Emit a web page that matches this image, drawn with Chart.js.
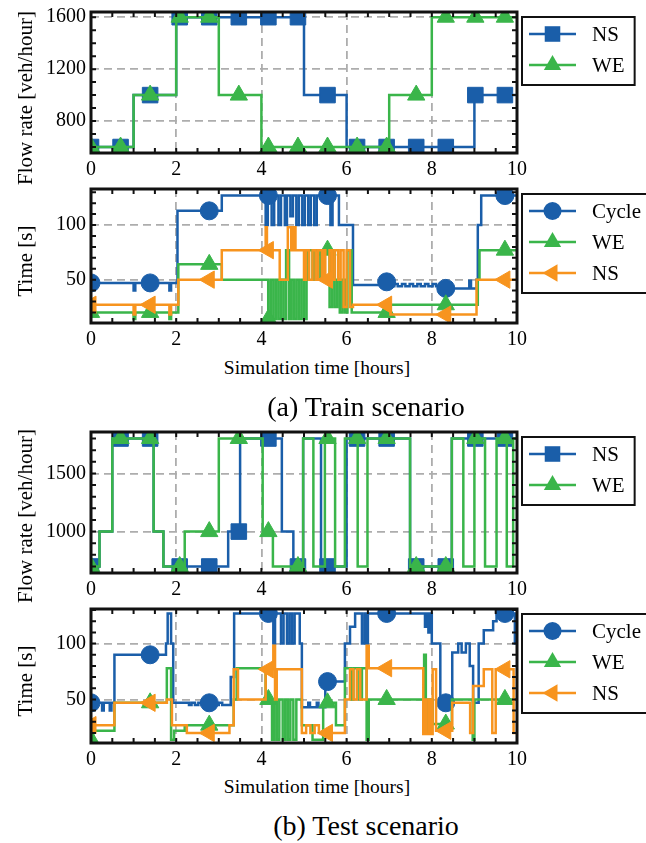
<!DOCTYPE html>
<html>
<head>
<meta charset="utf-8">
<script src="https://cdn.jsdelivr.net/npm/chart.js@4/dist/chart.umd.min.js"></script>
<style>
  body { margin: 0; background: #fff; width: 646px; height: 843px; position: relative; overflow: hidden;
         font-family: "Liberation Serif", "Times New Roman", serif; color: #000; }
  .panel { position: absolute; left: 0; }
  .lbl { position: absolute; white-space: nowrap; transform: translate(-50%, -50%); }
  .ylbl { transform: translate(-50%, -50%) rotate(-90deg); font-size: 21px; }
  .xlbl { font-size: 19.5px; }
  .cap { font-size: 28px; }
</style>
</head>
<body>
<div class="panel" style="top:0"><canvas id="c1" width="646" height="178"></canvas></div>
<div class="panel" style="top:178px"><canvas id="c2" width="646" height="172"></canvas></div>
<div class="panel" style="top:420px"><canvas id="c3" width="646" height="178"></canvas></div>
<div class="panel" style="top:598px"><canvas id="c4" width="646" height="172"></canvas></div>

<div class="lbl ylbl" style="left:25px;top:98px">Flow rate [veh/hour]</div>
<div class="lbl ylbl" style="left:25px;top:261px">Time [s]</div>
<div class="lbl xlbl" style="left:317px;top:368px">Simulation time [hours]</div>
<div class="lbl cap" style="left:366px;top:407px">(a) Train scenario</div>

<div class="lbl ylbl" style="left:25px;top:516px">Flow rate [veh/hour]</div>
<div class="lbl ylbl" style="left:25px;top:681px">Time [s]</div>
<div class="lbl xlbl" style="left:317px;top:787px">Simulation time [hours]</div>
<div class="lbl cap" style="left:366px;top:826px">(b) Test scenario</div>

<script>
/* ── Data: [hour, value] step points, value holds until next point ── */
const hourTicks = [0, 2, 4, 6, 8, 10];
const trainRateTicks = [800, 1200, 1600];
const testRateTicks = [1000, 1500];
const timeTicks = [50, 100];

// marker positions (hours)
const flowMarkHours = [0, 0.694, 1.388, 2.082, 2.776, 3.47, 4.164, 4.858, 5.552, 6.246, 6.94, 7.634, 8.328, 9.022, 9.716];
const timeMarkHours = [0, 1.388, 2.776, 4.164, 5.552, 6.94, 8.328, 9.716];

// (a) train – flow rate [veh/hour]
const trainFlowNS = [[0,600],[1,1000],[2,1600],[5,1000],[6,600],[9,1000],[10,1000]];
const trainFlowWE = [[0,600],[1,1000],[2,1600],[3,1000],[4,600],[7,1000],[8,1600],[10,1600]];

// (a) train – time [s]
const trainCycle = [[0,47],[1.0,40],[1.04,47],[1.84,40],[1.88,47],[2.03,113],[3.07,127],[4.1,100],[4.15,127],
  [4.24,100],[4.3,127],[4.4,100],[4.46,127],[4.55,100],[4.6,127],[4.68,108],[4.74,127],[4.82,100],[4.88,127],
  [4.96,100],[5.02,127],[5.1,100],[5.16,127],[5.24,100],[5.3,127],[5.62,100],[5.67,127],[5.82,100],[6.15,45],
  [6.9,48],[7.05,44],[7.12,46],[7.2,44],[7.3,46],[7.38,44],[7.48,46],[7.56,44],[7.66,46],[7.74,44],[7.84,46],
  [7.92,44],[8.02,46],[8.1,44],[8.25,42],[8.88,49],[8.92,42],[9.05,50],[9.08,100],[9.16,127],[10,127]];
const trainGreenWE = [[0,20],[1.0,14],[1.04,20],[1.84,14],[1.88,20],[2.05,64],[3.07,50],[4.16,14],[4.22,50],
  [4.28,14],[4.34,50],[4.4,14],[4.46,50],[4.52,14],[4.58,77],[4.65,14],[4.7,50],[4.76,14],[4.82,50],[4.88,14],
  [4.94,50],[5.0,14],[5.06,50],[5.1,77],[5.2,50],[5.26,77],[5.34,50],[5.4,77],[5.6,25],[5.66,77],[5.72,25],
  [5.78,50],[5.84,20],[5.9,50],[5.96,20],[6.02,77],[6.12,20],[7.03,27],[9.08,50],[9.12,77],[10,77]];
const trainGreenNS = [[0,27],[1.0,18],[1.04,27],[1.84,18],[1.88,27],[2.05,50],[3.07,77],[4.1,98],[4.13,77],
  [4.43,50],[4.62,98],[4.7,77],[4.75,98],[4.8,77],[5.0,50],[5.05,77],[5.12,50],[5.2,77],[5.27,50],[5.33,77],
  [5.42,50],[5.46,77],[5.5,50],[5.6,77],[5.66,50],[5.72,77],[5.8,50],[5.86,77],[5.93,25],[6.0,77],[6.08,25],
  [6.15,27],[7.03,18],[9.05,50],[10,50]];

// (b) test – flow rate [veh/hour]
const testFlowNS = [[0,700],[0.2,1000],[0.5,1800],[1.47,1000],[1.7,700],[3.22,1000],[3.5,1800],[4.48,1000],
  [4.75,700],[4.98,1800],[5.4,700],[6.0,1800],[7.49,700],[8.47,1800],[10,1800]];
const testFlowWE = [[0,700],[0.2,1000],[0.5,1800],[1.47,1000],[1.7,700],[2.2,1000],[3.0,1800],[4.03,1000],
  [4.27,700],[4.98,1800],[5.22,700],[5.49,1800],[5.73,700],[5.96,1800],[6.26,700],[6.49,1800],[7.49,700],
  [8.47,1800],[8.74,700],[9.0,1800],[9.25,700],[9.52,1800],[9.76,700],[9.91,1800],[10,1800]];

// (b) test – time [s]
const testCycle = [[0,47],[0.26,40],[0.3,47],[0.44,40],[0.48,47],[0.55,90],[1.76,100],[1.8,127],[1.88,100],
  [1.93,47],[2.3,45],[2.36,47],[2.44,45],[2.52,47],[2.6,45],[2.7,47],[2.9,45],[3.0,47],[3.08,45],[3.28,70],
  [3.36,127],[4.28,100],[4.32,127],[4.46,100],[4.52,127],[4.6,100],[4.66,127],[4.72,100],[4.78,127],[4.9,100],
  [4.95,43],[5.1,47],[5.14,43],[5.3,47],[5.34,43],[5.5,66],[5.96,100],[6.08,115],[6.2,127],[6.36,100],[6.42,127],
  [6.46,100],[6.5,127],[7.84,115],[7.88,127],[7.92,110],[7.96,127],[8.0,100],[8.2,47],[8.48,92],[8.62,100],
  [8.7,92],[8.8,100],[8.89,80],[8.97,47],[9.1,100],[9.22,112],[9.44,120],[9.52,127],[9.95,100],[10,100]];
const testGreenWE = [[0,14],[0.05,22],[0.55,47],[1.78,78],[1.88,14],[1.95,22],[2.2,27],[3.35,50],[3.42,78],
  [4.1,50],[4.25,14],[4.3,50],[4.36,14],[4.42,50],[4.5,14],[4.56,50],[4.62,14],[4.68,50],[4.75,14],[4.82,50],
  [4.95,27],[5.2,14],[5.45,47],[5.75,27],[5.96,78],[6.1,50],[6.16,78],[6.3,50],[6.36,78],[6.47,14],[6.52,50],
  [7.82,90],[7.86,20],[7.92,50],[8.02,28],[8.47,50],[8.96,14],[9.0,50],[10,50]];
const testGreenNS = [[0,27],[0.55,47],[1.78,50],[1.9,27],[2.25,20],[3.25,27],[3.35,77],[3.45,50],[4.1,77],
  [4.28,98],[4.32,50],[4.36,77],[4.95,20],[5.05,27],[5.15,20],[5.25,27],[5.35,20],[5.96,50],[6.08,77],[6.16,50],
  [6.24,77],[6.32,50],[6.47,98],[6.52,78],[7.8,19],[7.84,50],[7.88,19],[7.94,50],[7.98,19],[8.02,77],[8.1,22],
  [8.48,47],[8.9,20],[8.97,62],[9.22,77],[9.42,20],[9.5,77],[9.92,20],[10,20]];

/* ── Styling ─────────────────────────────────────────────── */
const BLUE = '#1a5ea9', GREEN = '#3ab54a', ORANGE = '#f7941e';
const FONT = '"Liberation Serif", "Times New Roman", serif';
const GRID = '#adadad';

// step value at t, used to put the sparse markers on the line
function stepAt(pts, t) {
  let v = pts[0][1];
  pts.forEach(p => { if (p[0] <= t + 1e-9) v = p[1]; });
  return v;
}

function series(pts, marks) {
  const out = pts.map(p => ({ x: p[0], y: p[1], m: false }));
  marks.forEach(t => {
    const hit = out.find(p => Math.abs(p.x - t) < 1e-9);
    if (hit) hit.m = true;
    else out.push({ x: t, y: stepAt(pts, t), m: true });
  });
  return out.sort((a, b) => a.x - b.x);
}

function dataset(label, pts, marks, color, style, radius, order, rotation) {
  return {
    label, order, data: series(pts, marks),
    borderColor: color, backgroundColor: color, borderWidth: 2.5,
    stepped: true, pointStyle: style, pointRotation: rotation || 0,
    pointRadius: c => (c.raw && c.raw.m ? radius : 0),
    pointHoverRadius: 0, pointBorderWidth: 1, pointBorderColor: color,
    legendRadius: radius
  };
}

function drawMarker(ctx, style, rot, r, x, y, color) {
  ctx.save();
  ctx.translate(x, y);
  ctx.rotate(rot * Math.PI / 180);
  ctx.fillStyle = color;
  ctx.beginPath();
  if (style === 'circle') ctx.arc(0, 0, r, 0, 2 * Math.PI);
  else if (style === 'rect') { const s = r * Math.SQRT1_2; ctx.rect(-s, -s, 2 * s, 2 * s); }
  else {
    ctx.moveTo(0, -r);
    ctx.lineTo(r * Math.sin(2 * Math.PI / 3), -r * Math.cos(2 * Math.PI / 3));
    ctx.lineTo(r * Math.sin(4 * Math.PI / 3), -r * Math.cos(4 * Math.PI / 3));
    ctx.closePath();
  }
  ctx.fill();
  ctx.restore();
}

/* ── Plugins: boxed frame with inward ticks, boxed legend ── */
const framePlugin = {
  id: 'frame',
  afterDatasetsDraw(chart, args, opts) {
    const { ctx, chartArea: a, scales: { x, y } } = chart;
    ctx.save();
    ctx.strokeStyle = '#111';
    ctx.lineWidth = 2;
    ctx.beginPath();
    for (let v = x.min; v <= x.max + 1e-9; v += 0.5) {
      const px = x.getPixelForValue(v);
      ctx.moveTo(px, a.top); ctx.lineTo(px, a.top + 5);
      ctx.moveTo(px, a.bottom); ctx.lineTo(px, a.bottom - 5);
    }
    for (let v = Math.ceil(y.min / opts.yStep) * opts.yStep; v <= y.max; v += opts.yStep) {
      const py = y.getPixelForValue(v);
      ctx.moveTo(a.left, py); ctx.lineTo(a.left + 5, py);
      ctx.moveTo(a.right, py); ctx.lineTo(a.right - 5, py);
    }
    ctx.stroke();
    ctx.lineWidth = 3;
    ctx.strokeRect(a.left, a.top, a.width, a.height);
    ctx.restore();
  }
};

const boxLegend = {
  id: 'boxLegend',
  afterDraw(chart) {
    const { ctx, chartArea: a } = chart;
    const sets = chart.data.datasets;
    ctx.save();
    ctx.font = '21px ' + FONT;
    const left = a.right + 5, top = a.top + 5, textX = a.right + 75;
    const w = Math.max(...sets.map(d => ctx.measureText(d.label).width));
    const boxW = textX + w + 10 - left, boxH = sets.length * 31 + 6;
    ctx.fillStyle = '#fff';
    ctx.fillRect(left, top, boxW, boxH);
    ctx.strokeStyle = '#111';
    ctx.lineWidth = 2;
    ctx.strokeRect(left, top, boxW, boxH);
    sets.forEach((d, i) => {
      const cy = top + 17 + i * 31;
      ctx.strokeStyle = d.borderColor;
      ctx.lineWidth = d.borderWidth;
      ctx.beginPath();
      ctx.moveTo(a.right + 12, cy); ctx.lineTo(a.right + 59, cy);
      ctx.stroke();
      drawMarker(ctx, d.pointStyle, d.pointRotation, d.legendRadius, a.right + 35.5, cy, d.backgroundColor);
      ctx.fillStyle = '#000';
      ctx.textBaseline = 'middle';
      ctx.fillText(d.label, textX, cy + 1);
    });
    ctx.restore();
  }
};

/* ── Chart factory ───────────────────────────────────────── */
function makeChart(id, datasets, yMin, yMax, yTicks, yStep, padTop, xHeight) {
  const tickFont = { family: FONT, size: 20 };
  return new Chart(document.getElementById(id), {
    type: 'line',
    data: { datasets },
    options: {
      responsive: false, animation: false, events: [],
      layout: { padding: { top: padTop, right: 129, left: 0, bottom: 0 } },
      plugins: { legend: { display: false }, tooltip: { enabled: false }, frame: { yStep } },
      scales: {
        x: {
          type: 'linear', min: 0, max: 10,
          afterBuildTicks: s => { s.ticks = hourTicks.map(v => ({ value: v })); },
          afterFit: s => { s.height = xHeight; s.paddingLeft = 0; s.paddingRight = 0; },
          grid: { color: GRID, lineWidth: 1.8, drawTicks: false },
          border: { display: false, dash: [8, 5] },
          ticks: { font: tickFont, color: '#000', padding: 5, maxRotation: 0, autoSkip: false,
                   callback: v => String(v) }
        },
        y: {
          type: 'linear', min: yMin, max: yMax,
          afterBuildTicks: s => { s.ticks = yTicks.map(v => ({ value: v })); },
          afterFit: s => { s.width = 91; s.paddingTop = 0; s.paddingBottom = 0; },
          grid: { color: GRID, lineWidth: 1.8, drawTicks: false },
          border: { display: false, dash: [8, 5] },
          ticks: { font: tickFont, color: '#000', padding: 5, autoSkip: false,
                   callback: v => String(v) }
        }
      }
    },
    plugins: [framePlugin, boxLegend]
  });
}

makeChart('c1', [
  dataset('NS', trainFlowNS, flowMarkHours, BLUE, 'rect', 11, 2),
  dataset('WE', trainFlowWE, flowMarkHours, GREEN, 'triangle', 10, 1)
], 554, 1640, trainRateTicks, 100, 12, 25);

makeChart('c2', [
  dataset('Cycle', trainCycle, timeMarkHours, BLUE, 'circle', 9, 3),
  dataset('WE', trainGreenWE, timeMarkHours, GREEN, 'triangle', 10, 2),
  dataset('NS', trainGreenNS, timeMarkHours, ORANGE, 'triangle', 10, 1, -90)
], 10.3, 133, timeTicks, 10, 3, 27);

makeChart('c3', [
  dataset('NS', testFlowNS, flowMarkHours, BLUE, 'rect', 11, 2),
  dataset('WE', testFlowWE, flowMarkHours, GREEN, 'triangle', 10, 1)
], 644, 1856, testRateTicks, 100, 10, 25);

makeChart('c4', [
  dataset('Cycle', testCycle, timeMarkHours, BLUE, 'circle', 9, 3),
  dataset('WE', testGreenWE, timeMarkHours, GREEN, 'triangle', 10, 2),
  dataset('NS', testGreenNS, timeMarkHours, ORANGE, 'triangle', 10, 1, -90)
], 11, 131, timeTicks, 10, 3, 27);
</script>
</body>
</html>
